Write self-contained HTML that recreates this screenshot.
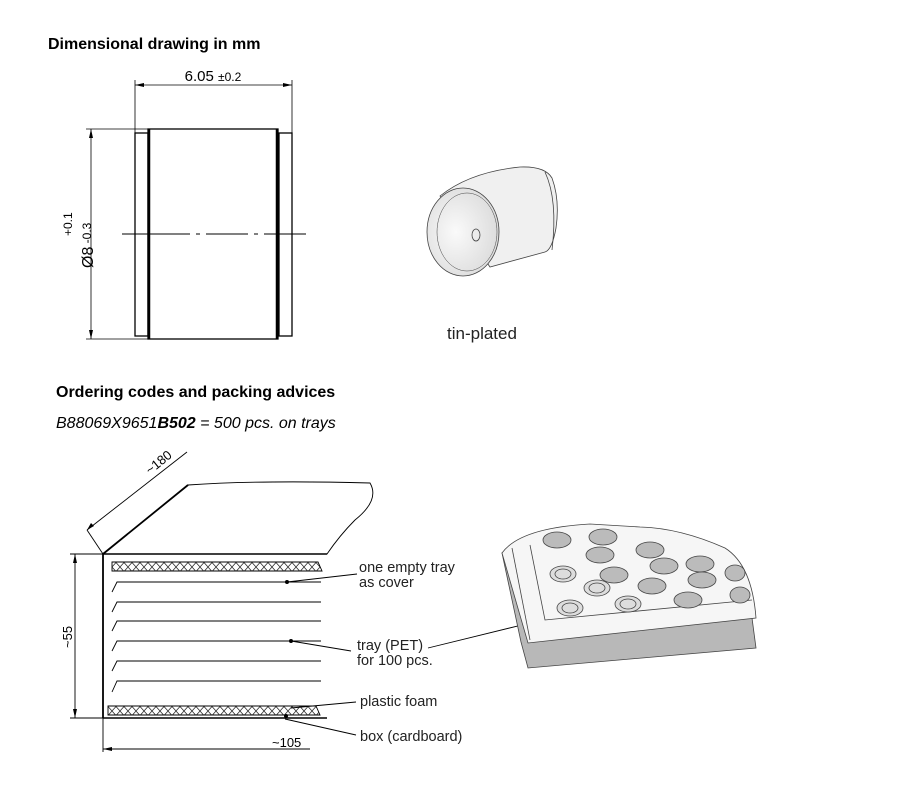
<!DOCTYPE html>
<html><head><meta charset="utf-8"><style>
body{margin:0;background:#fff;}
svg{display:block;font-family:"Liberation Sans",sans-serif;}
</style></head><body>
<svg width="900" height="791" viewBox="0 0 900 791" xmlns="http://www.w3.org/2000/svg">
<defs>
<pattern id="hx" width="8" height="9" patternUnits="userSpaceOnUse">
<path d="M0 0 L8 9 M8 0 L0 9" stroke="#333" stroke-width="0.8"/>
</pattern>
<radialGradient id="cg" cx="0.4" cy="0.5" r="0.6"><stop offset="0" stop-color="#fafafa"/><stop offset="1" stop-color="#dcdcdc"/></radialGradient>
</defs>
<text x="48" y="49" font-size="16" font-weight="bold">Dimensional drawing in mm</text>
<g stroke="#000" fill="none" stroke-width="0.8">
<line x1="135" y1="85" x2="292" y2="85"/>
<line x1="135" y1="80" x2="135" y2="133"/>
<line x1="292" y1="80" x2="292" y2="133"/>
<line x1="91" y1="129" x2="91" y2="339"/>
<line x1="86" y1="129" x2="148" y2="129"/>
<line x1="86" y1="339" x2="148" y2="339"/>
<path d="M122 234 H190 M196 234 H200 M206 234 H248 M254 234 H258 M264 234 H306" stroke-width="1"/>
</g>
<path d="M135 85 l9 -2 v4z M292 85 l-9 -2 v4z M91 129 l-2 9 h4z M91 339 l-2 -9 h4z" fill="#000"/>
<g stroke="#000" fill="none">
<rect x="135" y="133" width="13" height="203" stroke-width="1.3"/>
<rect x="148" y="129" width="130" height="210" stroke-width="1.3"/>
<line x1="149" y1="129" x2="149" y2="339" stroke-width="2.5"/>
<line x1="277" y1="129" x2="277" y2="339" stroke-width="2.5"/>
<rect x="279" y="133" width="13" height="203" stroke-width="1.3"/>
</g>
<text x="213" y="81" font-size="15" text-anchor="middle">6.05 <tspan font-size="12">±0.2</tspan></text>
<text transform="translate(93,268) rotate(-90)" font-size="16">Ø8<tspan font-size="12" dy="-2"> -0.3</tspan></text>
<text transform="translate(72,236) rotate(-90)" font-size="12">+0.1</text>
<!-- 3D cylinder -->
<g stroke="#444" stroke-width="0.8">
<path d="M440 196 Q470 172 520 167 Q545 166 552 178 Q560 200 556 228 Q552 250 545 252 L490 267 Z" fill="#f0f0f0"/>
<path d="M545 172 Q558 200 552 250" fill="none"/>
<ellipse cx="463" cy="232" rx="36" ry="44" fill="url(#cg)"/>
<ellipse cx="467" cy="232" rx="30" ry="39" fill="none" stroke-width="0.5"/>
<ellipse cx="476" cy="235" rx="4" ry="6" fill="none"/>
</g>
<text x="447" y="339" font-size="17" fill="#222">tin-plated</text>
<text x="56" y="397" font-size="16" font-weight="bold">Ordering codes and packing advices</text>
<text x="56" y="428" font-size="16" font-style="italic">B88069X9651<tspan font-weight="bold">B502</tspan> = 500 pcs. on trays</text>
<g stroke="#000" fill="none" stroke-width="0.9">
<path d="M103 554 L188 485 Q260 480 370 483 Q380 500 355 520 Q340 535 327 554 L103 554 Z" fill="#fff"/>
<line x1="103" y1="554" x2="188" y2="485" stroke-width="1.8"/>
<line x1="103" y1="554" x2="103" y2="718" stroke-width="1.8"/>
<line x1="103" y1="554" x2="327" y2="554" stroke-width="1.5"/>
<line x1="103" y1="718" x2="327" y2="718" stroke-width="1.5"/>
<line x1="87" y1="530" x2="187" y2="452"/>
<line x1="87" y1="530" x2="103" y2="554"/>
<line x1="75" y1="554" x2="75" y2="718"/>
<line x1="70" y1="554" x2="103" y2="554"/>
<line x1="70" y1="718" x2="103" y2="718"/>
<line x1="103" y1="749" x2="310" y2="749"/>
<line x1="103" y1="718" x2="103" y2="752"/>
<path d="M112 562 H318 L322 571 H112 Z" fill="url(#hx)"/>
<path d="M108 706 H316 L320 715 H108 Z" fill="url(#hx)"/>
<path d="M112 592 L117 582 H321 M112 612 L117 602 H321 M112 631 L117 621 H321 M112 651 L117 641 H321 M112 671 L117 661 H321 M112 692 L117 681 H321"/>
<path d="M287 582 L357 574 M291 641 L351 651 M291 708 L356 702 M285 719 L356 735 M428 648 L530 623"/>
</g>
<path d="M75 554 l-2 9 h4z M75 718 l-2 -9 h4z M103 749 l9 -2 v4z M87 530 l4 -7 l3 3z" fill="#000"/>
<g fill="#000"><circle cx="287" cy="582" r="2"/><circle cx="291" cy="641" r="2"/><circle cx="286" cy="716" r="2"/><circle cx="530" cy="623" r="2"/></g>
<text transform="translate(150,475) rotate(-39)" font-size="13">~180</text>
<text transform="translate(72,648) rotate(-90)" font-size="13">~55</text>
<text x="272" y="747" font-size="13">~105</text>
<g font-size="14.5" fill="#222">
<text x="359" y="572">one empty tray</text>
<text x="359" y="587">as cover</text>
<text x="357" y="650">tray (PET)</text>
<text x="357" y="665">for 100 pcs.</text>
<text x="360" y="706">plastic foam</text>
<text x="360" y="741">box (cardboard)</text>
</g>
<g stroke="#444" stroke-width="0.8">
<path d="M502 553 L521 642 L528 668 L756 648 L752 618 L540 640 L522 556 Z" fill="#b8b8b8"/>
<path d="M502 553 Q520 528 590 524 L640 527 Q680 528 725 548 Q752 565 756 618 L528 643 Z" fill="#f6f6f6"/>
<path d="M512 548 L530 640" fill="none"/>
<path d="M530 545 L545 620 L752 600" fill="none"/>
</g>
<g fill="#bbb" stroke="#444" stroke-width="0.8">
<ellipse cx="557" cy="540" rx="14" ry="8"/><ellipse cx="603" cy="537" rx="14" ry="8"/>
<ellipse cx="600" cy="555" rx="14" ry="8"/><ellipse cx="650" cy="550" rx="14" ry="8"/>
<ellipse cx="614" cy="575" rx="14" ry="8"/><ellipse cx="664" cy="566" rx="14" ry="8"/>
<ellipse cx="700" cy="564" rx="14" ry="8"/><ellipse cx="652" cy="586" rx="14" ry="8"/>
<ellipse cx="702" cy="580" rx="14" ry="8"/><ellipse cx="688" cy="600" rx="14" ry="8"/>
<ellipse cx="740" cy="595" rx="10" ry="8"/><ellipse cx="735" cy="573" rx="10" ry="8"/>
</g>
<g fill="#ddd" stroke="#444" stroke-width="0.8">
<ellipse cx="563" cy="574" rx="13" ry="8"/><ellipse cx="563" cy="574" rx="8" ry="5"/>
<ellipse cx="597" cy="588" rx="13" ry="8"/><ellipse cx="597" cy="588" rx="8" ry="5"/>
<ellipse cx="570" cy="608" rx="13" ry="8"/><ellipse cx="570" cy="608" rx="8" ry="5"/>
<ellipse cx="628" cy="604" rx="13" ry="8"/><ellipse cx="628" cy="604" rx="8" ry="5"/>
</g>
</svg>
</body></html>
